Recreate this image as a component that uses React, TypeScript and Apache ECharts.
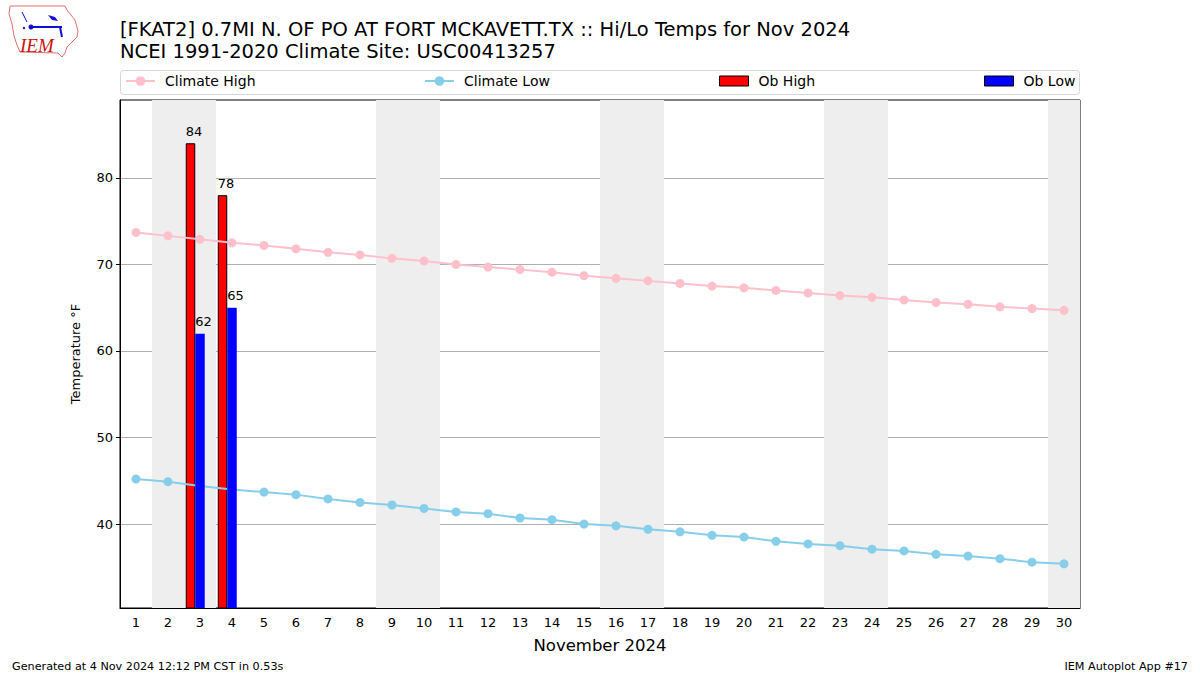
import React, { useEffect, useRef } from "react";
import * as echarts from "echarts";

const days = Array.from({ length: 30 }, (_, i) => String(i + 1));
const climateHigh = [73.7, 73.3, 72.9, 72.5, 72.2, 71.8, 71.4, 71.1, 70.7, 70.4, 70.0, 69.7, 69.4, 69.1, 68.7, 68.4, 68.1, 67.8, 67.5, 67.3, 67.0, 66.7, 66.4, 66.2, 65.9, 65.6, 65.4, 65.1, 64.9, 64.7];
const climateLow = [45.2, 44.9, 44.4, 44.0, 43.7, 43.4, 42.9, 42.5, 42.2, 41.8, 41.4, 41.2, 40.7, 40.5, 40.0, 39.8, 39.4, 39.1, 38.7, 38.5, 38.0, 37.7, 37.5, 37.1, 36.9, 36.5, 36.3, 36.0, 35.6, 35.4];
const obHigh: (number | null)[] = [null, null, 84, 78, null, null, null, null, null, null, null, null, null, null, null, null, null, null, null, null, null, null, null, null, null, null, null, null, null, null];
const obLow: (number | null)[] = [null, null, 62, 65, null, null, null, null, null, null, null, null, null, null, null, null, null, null, null, null, null, null, null, null, null, null, null, null, null, null];
const weekendRanges = [[2, 3], [9, 10], [16, 17], [23, 24], [30, 30]];
const yTicks = [40, 50, 60, 70, 80];

const FONT = "DejaVu Sans";

export default function App() {
  const ref = useRef<HTMLDivElement>(null);
  useEffect(() => {
    if (!ref.current) return;
    const chart = echarts.init(ref.current, undefined, { renderer: "svg" });
    const legendBase = {
      top: 74,
      padding: 0,
      itemWidth: 29,
      itemHeight: 12,
      itemGap: 0,
      textStyle: { fontFamily: FONT, fontSize: 14, color: "#000", padding: [0, 0, 0, 5] },
      selectedMode: false,
    };
    const barLabel = {
      show: true,
      position: [0, -12],
      align: "left",
      verticalAlign: "middle",
      fontFamily: FONT,
      fontSize: 13,
      color: "#000",
    };
    const option: any = {
      animation: false,
      backgroundColor: "#fff",
      textStyle: { fontFamily: FONT },
      title: {
        text: "[FKAT2] 0.7MI N. OF PO AT FORT MCKAVETT.TX :: Hi/Lo Temps for Nov 2024\nNCEI 1991-2020 Climate Site: USC00413257",
        left: 120,
        top: 18,
        padding: 0,
        textStyle: { fontFamily: FONT, fontSize: 19.5, fontWeight: "normal", color: "#000", lineHeight: 22 },
      },
      legend: [
        { ...legendBase, left: 125, data: [{ name: "Climate High" }] },
        { ...legendBase, left: 424, data: [{ name: "Climate Low" }] },
        { ...legendBase, left: 719, itemHeight: 10, data: [{ name: "Ob High", icon: "rect", itemStyle: { borderColor: "#000", borderWidth: 1 } }] },
        { ...legendBase, left: 984, itemHeight: 10, data: [{ name: "Ob Low", icon: "rect", itemStyle: { borderColor: "#000", borderWidth: 1 } }] },
      ],
      grid: { left: 120, right: 120, top: 100, bottom: 67, show: true, borderColor: "#000", borderWidth: 1, containLabel: false },
      xAxis: [
        {
          type: "category",
          data: days,
          boundaryGap: true,
          name: "November 2024",
          nameLocation: "middle",
          nameGap: 29,
          nameTextStyle: { fontFamily: FONT, fontSize: 16.5, color: "#000" },
          axisLine: { lineStyle: { color: "#000" } },
          axisTick: { alignWithLabel: true, length: 4, lineStyle: { color: "#000" } },
          axisLabel: { fontFamily: FONT, fontSize: 13, color: "#000", margin: 8, interval: 0 },
          splitLine: { show: false },
        },
        { type: "value", min: 0.5, max: 30.5, show: false },
      ],
      yAxis: {
        type: "value",
        min: 30.3,
        max: 89,
        interval: 10,
        name: "Temperature °F",
        nameLocation: "middle",
        nameGap: 38,
        nameTextStyle: { fontFamily: FONT, fontSize: 13, color: "#000" },
        axisLine: { show: true, lineStyle: { color: "#000" } },
        axisTick: { show: true, length: 4, lineStyle: { color: "#000" }, customValues: yTicks },
        axisLabel: { fontFamily: FONT, fontSize: 13, color: "#000", margin: 7, customValues: yTicks },
        splitLine: { show: true, lineStyle: { color: "#b0b0b0", width: 1 } },
      },
      series: [
        {
          name: "weekends",
          type: "line",
          xAxisIndex: 1,
          data: [],
          z: 0,
          silent: true,
          markArea: {
            silent: true,
            itemStyle: { color: "#eeeeee" },
            data: weekendRanges.map(([a, b]) => [{ xAxis: a - 0.5 }, { xAxis: Math.min(b + 0.5, 30.5) }]),
          },
        },
        {
          name: "Climate High",
          type: "line",
          data: climateHigh,
          symbol: "circle",
          symbolSize: 9,
          color: "#ffc0cb",
          lineStyle: { width: 2, color: "#ffc0cb" },
          itemStyle: { color: "#ffc0cb" },
          z: 3,
        },
        {
          name: "Climate Low",
          type: "line",
          data: climateLow,
          symbol: "circle",
          symbolSize: 9,
          color: "#87ceeb",
          lineStyle: { width: 2, color: "#87ceeb" },
          itemStyle: { color: "#87ceeb" },
          z: 3,
        },
        {
          name: "Ob High",
          type: "bar",
          data: obHigh,
          barWidth: 9.5,
          barGap: "0%",
          color: "#ff0000",
          itemStyle: { color: "#ff0000", borderColor: "#000", borderWidth: 1 },
          label: barLabel,
          z: 2,
        },
        {
          name: "Ob Low",
          type: "bar",
          data: obLow,
          barWidth: 9.5,
          barGap: "0%",
          color: "#0000ff",
          itemStyle: { color: "#0000ff", borderColor: "#000", borderWidth: 0 },
          label: barLabel,
          z: 4,
        },
        {
          name: "spacer",
          type: "bar",
          data: [],
          barWidth: 9.5,
          barGap: "0%",
        },
      ],
      graphic: [
        {
          type: "rect",
          shape: { x: 120.5, y: 70.5, width: 959, height: 24, r: 3 },
          style: { fill: "rgba(255,255,255,0.8)", stroke: "#d6d6d6", lineWidth: 1 },
          z: -1,
        },
        {
          type: "polygon",
          shape: {
            points: [[10, 6], [65, 6], [67, 10], [75, 20], [78, 31], [77, 37], [72, 42], [67, 47], [65, 53], [62, 57], [58, 53], [20, 52], [17, 45], [14, 36], [12, 24], [9, 14]],
          },
          style: { fill: "#fff", stroke: "#e07070", lineWidth: 1 },
        },
        { type: "line", shape: { x1: 31, y1: 27, x2: 62, y2: 27 }, style: { stroke: "#1010d0", lineWidth: 2 } },
        { type: "circle", shape: { cx: 31, cy: 27, r: 2.5 }, style: { fill: "#1010d0" } },
        { type: "line", shape: { x1: 22, y1: 12, x2: 27, y2: 22 }, style: { stroke: "#1010d0", lineWidth: 1 } },
        { type: "polygon", shape: { points: [[48, 15], [55, 17], [58, 21], [52, 20]] }, style: { fill: "#1010d0" } },
        { type: "line", shape: { x1: 60, y1: 27, x2: 62, y2: 37 }, style: { stroke: "#1010d0", lineWidth: 2 } },
        { type: "circle", shape: { cx: 24, cy: 28, r: 1.2 }, style: { fill: "#1010d0" } },
        {
          type: "text",
          x: 20,
          y: 36,
          style: { text: "IEM", font: "italic 19px 'Liberation Serif'", fill: "#cc1111" },
        },
        {
          type: "text",
          x: 12,
          y: 666,
          style: { text: "Generated at 4 Nov 2024 12:12 PM CST in 0.53s", font: `11.2px '${FONT}'`, fill: "#000", textVerticalAlign: "middle" },
        },
        {
          type: "text",
          x: 1188,
          y: 666,
          style: { text: "IEM Autoplot App #17", font: `11.2px '${FONT}'`, fill: "#000", textAlign: "right", textVerticalAlign: "middle" },
        },
      ],
    };
    chart.setOption(option);
    return () => chart.dispose();
  }, []);
  return <div ref={ref} style={{ width: 1200, height: 675, position: "absolute", left: 0, top: 0 }} />;
}
